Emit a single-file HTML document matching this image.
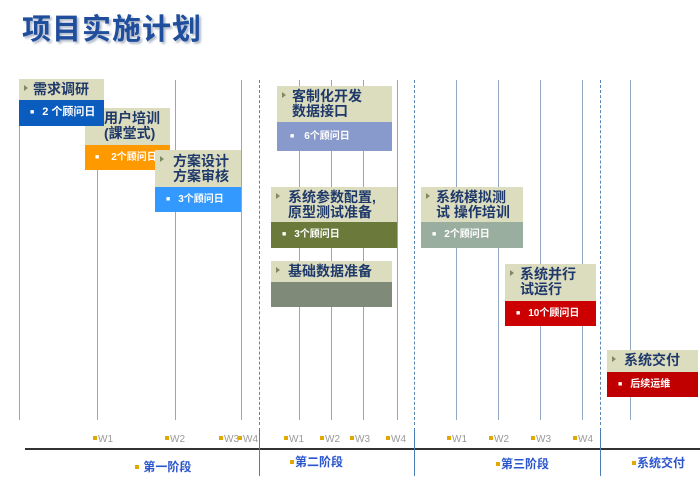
<!DOCTYPE html>
<html><head><meta charset="utf-8"><style>
body{margin:0;width:700px;height:489px;background:#fff;position:relative;overflow:hidden;font-family:"Liberation Sans","Noto Sans CJK SC",sans-serif}
.a{position:absolute}
.v{position:absolute;top:80px;height:340px;width:0;border-left:1.5px solid #93a8c0}
.d{position:absolute;top:80px;height:345px;width:0;border-left:1.5px dashed #5a86b0}
.s{position:absolute;top:428px;height:48px;width:0;border-left:1.5px solid #4a7fb5}
.h{position:absolute;background:#dcdcbf;color:#1f3a6a;font-weight:bold;font-size:14px;line-height:15px;box-sizing:border-box;z-index:2}
.h:before{content:"";position:absolute;left:5px;top:6px;border-left:4px solid #7f8a60;border-top:3.5px solid transparent;border-bottom:3.5px solid transparent}
.b{position:absolute;color:#fff;font-size:10px;font-weight:bold;line-height:25px;box-sizing:border-box;z-index:2}
.b span{font-size:7px;vertical-align:1px;margin-right:8px}
.low{z-index:1}
.w{position:absolute;top:434px;font-size:10px;color:#999}
.w:before,.p:before{content:"";display:inline-block;width:4px;height:4px;background:#e0a800;margin-right:1px;vertical-align:2px}
.p{position:absolute;top:456px;font-size:12px;font-weight:bold;color:#2a55cc}
</style></head><body>
<div class="a" style="left:22px;top:6px;font-size:29px;font-weight:bold;color:#1f4e9c;text-shadow:2px 2px 2px #b0b8c8;letter-spacing:1px">项目实施计划</div>

<div class="v" style="left:19px"></div><div class="v" style="left:97px"></div><div class="v" style="left:175px"></div><div class="v" style="left:241px"></div>
<div class="d" style="left:259px"></div>
<div class="v" style="left:299px"></div><div class="v" style="left:331px"></div><div class="v" style="left:363px"></div><div class="v" style="left:397px"></div>
<div class="d" style="left:414px"></div>
<div class="v" style="left:456px"></div><div class="v" style="left:498px"></div><div class="v" style="left:540px"></div><div class="v" style="left:582px"></div>
<div class="d" style="left:600px"></div>
<div class="v" style="left:630px"></div>

<div class="h" style="left:19px;top:79px;width:85px;height:22px;padding:3px 0 0 14px">需求调研</div>
<div class="b" style="left:19px;top:100px;width:85px;height:26px;background:#0a5cbf;padding-left:11px;font-size:11px"><span>■</span>2 个顾问日</div>

<div class="h low" style="left:85px;top:108px;width:85px;height:37px;padding:3px 0 0 19px">用户培训<br>(課堂式)</div>
<div class="b low" style="left:85px;top:145px;width:85px;height:25px;background:#ff9900;padding-left:10px"><span style="margin-right:12px">■</span>2个顾问日</div>

<div class="h" style="left:155px;top:150px;width:86px;height:37px;padding:4px 0 0 18px">方案设计<br>方案审核</div>
<div class="b" style="left:155px;top:187px;width:86px;height:25px;background:#3399ff;padding-left:11px"><span>■</span>3个顾问日</div>

<div class="h" style="left:277px;top:86px;width:115px;height:36px;padding:3px 0 0 15px">客制化开发<br>数据接口</div>
<div class="b" style="left:277px;top:122px;width:115px;height:29px;background:#8899cc;padding-left:13px;line-height:29px"><span style="margin-right:10px">■</span>6个顾问日</div>

<div class="h" style="left:271px;top:187px;width:126px;height:35px;padding:3px 0 0 17px">系统参数配置,<br>原型测试准备</div>
<div class="b" style="left:271px;top:222px;width:126px;height:26px;background:#6b7a3a;padding-left:11px"><span>■</span>3个顾问日</div>

<div class="h" style="left:271px;top:261px;width:121px;height:22px;padding:3px 0 0 17px">基础数据准备</div>
<div class="a" style="left:271px;top:282px;width:121px;height:25px;background:#7f8a78;z-index:2"></div>

<div class="h" style="left:421px;top:187px;width:102px;height:35px;padding:3px 0 0 15px">系统模拟测<br>试 操作培训</div>
<div class="b" style="left:421px;top:222px;width:102px;height:26px;background:#9aaea0;padding-left:11px"><span>■</span>2个顾问日</div>

<div class="h" style="left:505px;top:264px;width:91px;height:37px;padding:3px 0 0 15px">系统并行<br>试运行</div>
<div class="b" style="left:505px;top:301px;width:91px;height:25px;background:#cc0000;padding-left:11px"><span>■</span>10个顾问日</div>

<div class="h" style="left:607px;top:350px;width:91px;height:22px;padding:3px 0 0 17px">系统交付</div>
<div class="b" style="left:607px;top:372px;width:91px;height:25px;background:#c00000;padding-left:11px"><span>■</span>后续运维</div>

<div class="a" style="left:25px;top:448px;width:675px;height:2px;background:#333"></div>
<div class="s" style="left:259px"></div><div class="s" style="left:414px"></div><div class="s" style="left:600px"></div>

<div class="w" style="left:93px">W1</div><div class="w" style="left:165px">W2</div><div class="w" style="left:219px">W3</div><div class="w" style="left:238px">W4</div>
<div class="w" style="left:284px">W1</div><div class="w" style="left:320px">W2</div><div class="w" style="left:350px">W3</div><div class="w" style="left:386px">W4</div>
<div class="w" style="left:447px">W1</div><div class="w" style="left:489px">W2</div><div class="w" style="left:531px">W3</div><div class="w" style="left:573px">W4</div>

<div class="p" style="left:135px;top:458px">&nbsp;第一阶段</div>
<div class="p" style="left:290px;top:453px">第二阶段</div>
<div class="p" style="left:496px;top:455px">第三阶段</div>
<div class="p" style="left:632px;top:454px">系统交付</div>
</body></html>
